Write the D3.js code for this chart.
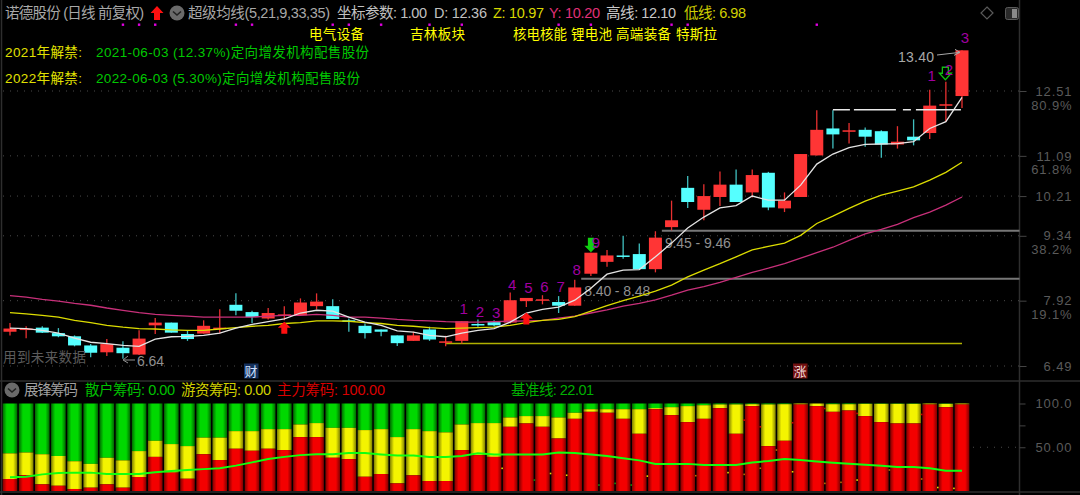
<!DOCTYPE html>
<html><head><meta charset="utf-8">
<script src="https://cdn.jsdelivr.net/npm/d3@7/dist/d3.min.js"></script>
<style>html,body{margin:0;background:#000;overflow:hidden}svg{display:block}text{font-family:"Liberation Sans","Noto Sans CJK SC",sans-serif}</style>
</head><body><svg id="c" width="1080" height="495"></svg>
<script>
// ---------- data ----------
const opens  =[7.24,7.30,7.33,7.21,7.14,6.94,6.79,6.89,6.74,7.38,7.44,7.19,7.20,7.32,7.83,7.67,7.53,7.61,7.60,7.80,7.80,7.49,7.37,7.29,7.16,7.04,7.29,7.02,7.04,7.41,7.45,7.44,7.91,7.94,7.89,7.81,8.51,8.77,8.91,8.94,8.61,9.53,10.39,9.91,10.19,10.46,10.29,10.72,9.94,10.19,11.10,11.69,11.64,11.66,11.63,11.34,11.51,11.59,12.21,12.40];
const closes =[7.31,7.31,7.22,7.14,6.94,6.78,6.97,6.77,7.09,7.44,7.22,7.08,7.37,7.33,7.70,7.56,7.65,7.62,7.88,7.90,7.52,7.48,7.21,7.24,6.99,7.16,7.07,7.03,7.47,7.39,7.38,7.93,7.98,7.95,7.81,8.21,8.97,8.91,8.89,8.61,9.30,9.68,10.08,10.21,10.46,10.08,10.67,9.96,10.11,11.13,11.66,11.56,11.65,11.51,11.34,11.40,11.43,12.19,12.22,13.40];
const highs  =[7.43,7.36,7.36,7.32,7.16,6.97,7.08,7.03,7.27,7.54,7.44,7.27,7.49,7.73,8.08,7.70,7.76,7.80,7.97,8.08,7.95,7.53,7.42,7.29,7.16,7.24,7.35,7.15,7.47,7.51,7.49,8.10,7.98,8.04,8.02,8.38,8.97,9.03,9.34,9.17,9.44,10.11,10.65,10.47,10.75,10.79,10.79,10.74,10.29,11.13,12.09,12.09,11.81,11.71,11.65,11.74,11.89,12.54,12.71,13.40];
const lows   =[7.16,7.10,7.21,7.12,6.92,6.68,6.71,6.65,6.73,7.19,7.22,7.04,7.20,7.20,7.60,7.43,7.51,7.49,7.60,7.73,7.52,7.24,7.09,7.14,6.93,7.04,7.04,6.92,6.98,7.35,7.36,7.42,7.78,7.84,7.65,7.81,8.46,8.66,8.84,8.61,8.54,9.46,9.95,9.68,9.99,10.08,10.18,9.90,9.86,10.19,11.10,11.25,11.36,11.29,11.05,11.25,11.32,11.46,11.83,12.14];
const maWhite =[7.32,7.31,7.27,7.21,7.10,7.01,6.98,6.94,6.92,7.08,7.13,7.14,7.16,7.21,7.32,7.40,7.46,7.52,7.65,7.71,7.69,7.56,7.45,7.38,7.26,7.23,7.16,7.13,7.21,7.27,7.31,7.45,7.65,7.73,7.78,7.93,8.19,8.50,8.59,8.60,8.88,9.18,9.51,9.75,9.95,10.00,10.21,10.12,10.12,10.45,10.91,11.13,11.27,11.34,11.35,11.36,11.40,11.69,11.84,12.37];
const maYellow=[7.66,7.63,7.60,7.56,7.49,7.44,7.38,7.34,7.31,7.30,7.28,7.27,7.27,7.30,7.33,7.36,7.38,7.42,7.44,7.48,7.48,7.47,7.44,7.42,7.38,7.36,7.33,7.31,7.32,7.33,7.34,7.38,7.44,7.49,7.51,7.57,7.69,7.81,7.92,8.02,8.13,8.26,8.44,8.59,8.73,8.88,9.03,9.11,9.18,9.35,9.61,9.77,9.94,10.10,10.23,10.32,10.41,10.56,10.73,10.95];
const maPink  =[8.03,8.00,7.95,7.91,7.86,7.82,7.76,7.71,7.66,7.62,7.60,7.58,7.56,7.56,7.56,7.56,7.58,7.60,7.60,7.62,7.60,7.56,7.56,7.54,7.51,7.49,7.48,7.46,7.45,7.45,7.46,7.47,7.48,7.49,7.54,7.58,7.65,7.72,7.80,7.86,7.94,8.04,8.15,8.23,8.32,8.43,8.54,8.63,8.73,8.85,8.97,9.09,9.24,9.38,9.48,9.59,9.74,9.86,10.01,10.19];
const chipRed   =[13.7,18,7.6,6,2.3,3.8,7.6,3.8,16,39,21,14,42,35.4,48.3,46,48.3,46.8,61.6,61.6,38,36.5,16.3,19.4,8.7,17.9,11.4,11.4,46.8,41,39,73.4,77.2,73.4,60,82.5,90.5,89.4,82.5,65.4,93.5,86.7,78.7,82.5,94.7,65.4,97,51.3,57.4,98.9,97,90.5,92,85.6,78.7,77.2,77.2,98.9,95.8,98.9];
const chipYellow=[43,44,42,40,34,31,38,35,45.6,57.4,53.6,51.3,61,61,68.4,68.4,70.7,70.7,76,77.6,72.2,72.2,69.6,70.7,61.6,70.7,68.4,67,76,77.6,77.6,84,85.6,85.6,84,89.4,93.5,93.5,93.5,93.5,94.7,95.8,97,98,98.9,98.9,99.2,98.9,99.2,100,100,99.2,99.2,99.6,99.6,99.6,99.6,100,99.6,100];
const baseLine  =[15.6,16.3,19,20.5,21,21,19.4,19.4,19.4,21.3,22.8,24,25,26,29,32.7,36.5,39,41,42,42,43.3,43.3,41.8,40.7,40.7,39,39,40,43,41.8,41.8,41.8,41.8,44,43.3,41.8,40,37.3,35,31,31,31,29.7,29.7,29.7,32.7,34.2,36.5,35.4,33.8,32.3,31.2,30,28.9,27.4,27.4,25.9,23.2,23.2];
const speckYellow=[[30.5,25.9],[33.5,20],[34.5,18],[39.5,17],[44.5,21],[48.5,22],[52.5,12.5],[57.5,4],[58.5,3]];
const speckGreen =[[32.5,12.5],[36.5,6.8],[37.5,8.7],[38.5,6.8]];
const speckOrange=[[42.5,17.5],[45.5,19],[46.5,26],[47.5,46.8],[50.5,8.7],[51.5,9.9],[54.5,24],[56.5,13.7]];
const speckRed   =[[45.5,81],[46.5,73.4],[48.5,78],[50.5,94.3],[52.5,88.6],[56.5,87.5]];
const priceTicks=[12.51,11.09,10.21,9.34,7.92,6.49];
const pctTicks=[80.9,61.8,38.2,19.1];
const chipTicks=[100,75,50];
const chipLabels=["100.0","","50.00"];
const dotBars=[7,8,9,14,15,20,21,23,26,28,34,36,41,42,50];
const highLine=12.10, lowLine=6.98;
const zones=[{p:9.45,from:40.4,label:"9.45 - 9.46"},{p:8.40,from:35.4,label:"8.40 - 8.48"}];
const counts=[{i:28,t:"1",p:7.63},{i:29,t:"2",p:7.56},{i:30,t:"3",p:7.54},{i:31,t:"4",p:8.16},{i:32,t:"5",p:8.08},{i:33,t:"6",p:8.12},{i:34,t:"7",p:8.12},{i:35,t:"8",p:8.48},{i:36,t:"9",p:9.08},{i:57,t:"1",p:12.72},{i:58,t:"2",p:12.86},{i:59,t:"3",p:13.57}];
const titleRow=[
 {t:"诺德股份 (日线 前复权)",x:5,w:139,c:"#a8a8a8"},
 {t:"超级均线(5,21,9,33,35)",x:188,w:142,c:"#a8a8a8"},
 {t:"坐标参数: 1.00",x:337,w:90,c:"#c0c0c0"},
 {t:"D: 12.36",x:434,w:53,c:"#c0c0c0"},
 {t:"Z: 10.97",x:493,w:51,c:"#d8d800"},
 {t:"Y: 10.20",x:549,w:51,c:"#e03078"},
 {t:"高线: 12.10",x:606,w:70,c:"#c8c8c8"},
 {t:"低线: 6.98",x:684,w:62,c:"#d0d000"}];
const conceptRow=[{t:"电气设备",x:309,w:55},{t:"吉林板块",x:410,w:55},{t:"核电核能",x:513,w:54},{t:"锂电池",x:571,w:41},{t:"高端装备",x:616,w:55},{t:"特斯拉",x:676,w:41}];
const unlockRows=[
 {h:"2021年解禁:",t:"2021-06-03 (12.37%)定向增发机构配售股份",w:273,y:52},
 {h:"2022年解禁:",t:"2022-06-03 (5.30%)定向增发机构配售股份",w:264,y:78}];
const chipRow=[
 {t:"展锋筹码",x:24,w:54,c:"#a0a0a0"},
 {t:"散户筹码: 0.00",x:85,w:90,c:"#00c000"},
 {t:"游资筹码: 0.00",x:181,w:90,c:"#d0d000"},
 {t:"主力筹码: 100.00",x:277,w:108,c:"#d80000"},
 {t:"基准线: 22.01",x:511,w:83,c:"#00b000"}];

// ---------- scales ----------
const svg=d3.select("#c");
svg.append("rect").attr("width",1080).attr("height",495).attr("fill","#000");
const N=opens.length, idx=d3.range(N);
const x=d3.scaleLinear().domain([0,N-1]).range([10,962]);
const y=d3.scaleLinear().domain([6.49,12.51]).range([366,91]);
const yPct=d3.scaleLinear().domain([19.1,80.9]).range([314,105]);
const yChip=d3.scaleLinear().domain([0,100]).range([491,403.5]);
const AX=1019.5;

// gradients
const defs=svg.append("defs");
[["gr","#800000","#f40000"],["gy","#808000","#f4f400"],["gg","#006800","#00d800"]].forEach(([id,e,m])=>{
 const g=defs.append("linearGradient").attr("id",id);
 g.append("stop").attr("offset","0").attr("stop-color",e);
 g.append("stop").attr("offset","0.28").attr("stop-color",m);
 g.append("stop").attr("offset","0.72").attr("stop-color",m);
 g.append("stop").attr("offset","1").attr("stop-color",e);
});

// frame
const frame=svg.append("g").attr("stroke","#2e2e2e").attr("stroke-width",1.5);
[[0,381,1080,381],[0,492,1080,492],[1.5,0,1.5,495],[AX,0,AX,495]].forEach(d=>frame.append("line").attr("x1",d[0]).attr("y1",d[1]).attr("x2",d[2]).attr("y2",d[3]));

// dotted grid
const grid=svg.append("g");
priceTicks.forEach(p=>grid.append("line").attr("x1",3).attr("x2",AX).attr("y1",y(p)).attr("y2",y(p)).attr("stroke","#4a4a4a").attr("stroke-dasharray","1 6"));

// axes
function styleAxis(g){g.select(".domain").remove();g.selectAll("line").attr("stroke","#444");
 g.selectAll("text").attr("text-anchor","end").attr("fill","#5a5a5a").attr("font-size",13).attr("letter-spacing",0.9);}
svg.append("g").attr("transform",`translate(${AX},0)`)
 .call(d3.axisRight(y).tickValues(priceTicks).tickSize(7).tickPadding(46).tickFormat(d3.format(".2f"))).call(styleAxis);
svg.append("g").attr("transform",`translate(${AX},0)`)
 .call(d3.axisRight(yPct).tickValues(pctTicks).tickSize(0).tickPadding(53).tickFormat(d=>d.toFixed(1)+"%")).call(styleAxis);
svg.append("g").attr("transform",`translate(${AX},0)`)
 .call(d3.axisRight(yChip).tickValues(chipTicks).tickSize(6).tickPadding(47).tickFormat((d,i)=>chipLabels[i])).call(styleAxis);

// zones + range labels
const fine=svg.append("g");
zones.forEach(z=>{
 fine.append("line").attr("x1",x(z.from)).attr("x2",AX).attr("y1",y(z.p)).attr("y2",y(z.p)).attr("stroke","#777").attr("stroke-width",2);
 fine.append("text").attr("x",x(z.from)+3).attr("y",y(z.p)+17).attr("fill","#909090").attr("font-size",14).attr("textLength",66).text(z.label);
});
svg.append("line").attr("x1",x(27)).attr("x2",x(59)).attr("y1",y(lowLine)).attr("y2",y(lowLine)).attr("stroke","#b0b000").attr("stroke-width",1.5);

// candles
const isUp=i=>closes[i]>=opens[i];
const colUp="#ff3535", colDn="#55ffff";
svg.append("g").selectAll("line").data(idx).join("line")
 .attr("x1",x).attr("x2",x).attr("y1",i=>y(highs[i])).attr("y2",i=>y(lows[i]))
 .attr("stroke",i=>isUp(i)?"#e83030":"#40c0c0").attr("stroke-width",1.3);
svg.append("g").selectAll("rect").data(idx).join("rect")
 .attr("x",i=>x(i)-6.5).attr("width",13)
 .attr("y",i=>y(Math.max(opens[i],closes[i])))
 .attr("height",i=>Math.max(1.5,Math.abs(y(opens[i])-y(closes[i]))))
 .attr("fill",i=>isUp(i)?colUp:colDn);

// MAs
const lineGen=a=>d3.line().x((d,i)=>x(i)).y(d=>y(d))(a);
[[maPink,"#c8307a"],[maYellow,"#dcdc00"],[maWhite,"#e4e4e4"]].forEach(([a,c])=>{
 svg.append("path").attr("d",lineGen(a)).attr("fill","none").attr("stroke",c).attr("stroke-width",1.3);
});
svg.append("line").attr("x1",x(51)).attr("x2",x(59)).attr("y1",y(highLine)).attr("y2",y(highLine)).attr("stroke","#e8e8e8").attr("stroke-width",1.5).attr("stroke-dasharray","17 4 42 7 8 5 45");

// arrows: solid up, solid down, outlined down
const arrowUp=(cx,ty,c)=>svg.append("path").attr("d",`M${cx} ${ty}l6.5 6h-3.5v6h-6v-6h-3.5z`).attr("fill",c);
arrowUp(x(17),y(7.46),"#ff1010");
arrowUp(x(32),y(7.66),"#ff1010");
svg.append("path").attr("d",`M${x(36)-3} ${y(9.30)}h6v8h3.5l-6.5 6.5l-6.5-6.5h3.5z`).attr("fill","#10d010");
svg.append("path").attr("d",`M${x(58)-3.5} ${y(13.03)}h6v6h3l-6 6.5l-6-6.5h3z`).attr("fill","none").attr("stroke","#10c010").attr("stroke-width",1.3);

// count numbers
svg.append("g").selectAll("text").data(counts).join("text")
 .attr("x",d=>x(d.i)+(d.i===36?5:d.i===58?3:d.i===59?3:2)).attr("y",d=>y(d.p)).attr("text-anchor","middle")
 .attr("fill","#a000a0").attr("font-size",15).text(d=>d.t);

// magenta marker dots
svg.append("g").selectAll("rect").data(dotBars).join("rect")
 .attr("x",i=>x(i)-1.2).attr("y",23.5).attr("width",2.4).attr("height",2.4).attr("fill","#e000e0");

// header text
const T=(t,xp,yp,c,w,fs=14.5)=>svg.append("text").attr("x",xp).attr("y",yp).attr("fill",c).attr("font-size",fs).attr("textLength",w).attr("lengthAdjust","spacing").text(t);
titleRow.forEach(d=>T(d.t,d.x,18,d.c,d.w));
conceptRow.forEach(d=>T(d.t,d.x,39,"#ffff00",d.w,13.5));
unlockRows.forEach(d=>{T(d.h,5,d.y+5,"#e0e000",77,13.5);T(d.t,96,d.y+5,"#00c800",d.w,13.5);});
svg.append("path").attr("d","M157 6l6.5 7h-3.5v7h-6v-7h-3.5z").attr("fill","#ff1010");

const chevron=(cx,cy)=>{svg.append("circle").attr("cx",cx).attr("cy",cy).attr("r",7.5).attr("fill","#6a6a6a");
 svg.append("path").attr("d",`M${cx-4} ${cy-1.5}l4 3.5l4-3.5`).attr("fill","none").attr("stroke","#222").attr("stroke-width",1.6);};
chevron(177,13); chevron(12,390);
svg.append("path").attr("d","M987 7l6 6l-6 6l-6-6z").attr("fill","none").attr("stroke","#5a5a5a").attr("stroke-width",1.2);
svg.append("rect").attr("x",1005.5).attr("y",7.5).attr("width",13).attr("height",12).attr("rx",2).attr("fill","#2a2a2a").attr("stroke","#5a5a5a");
svg.append("rect").attr("x",1012).attr("y",9).attr("width",5).attr("height",9).attr("fill","#8a8a8a");

// price callouts
const callout=svg.append("g");
callout.append("text").attr("x",898).attr("y",62).attr("fill","#a8a8a8").attr("font-size",14).attr("textLength",36).text("13.40");
callout.append("path").attr("d",`M937 55L${x(59)-2} ${y(13.40)+2}M${x(59)-7} ${y(13.40)-1}L${x(59)-2} ${y(13.40)+2}L${x(59)-8} ${y(13.40)+5}`).attr("fill","none").attr("stroke","#a8a8a8");
callout.append("text").attr("x",137).attr("y",366).attr("fill","#909090").attr("font-size",14).attr("textLength",27).text("6.64");
callout.append("path").attr("d",`M135 360H124M128 356L123 360L128 363`).attr("fill","none").attr("stroke","#909090");
T("用到未来数据",3,362,"#5c5c5c",83,13.5);

// event boxes
[[251,"财","#14305c","#cfe0ff"],[800,"涨","#701010","#f0d8d8"]].forEach(([cx,t,bg,fg])=>{
 svg.append("rect").attr("x",cx-7).attr("y",363.5).attr("width",14.5).attr("height",15).attr("fill",bg);
 svg.append("text").attr("x",cx).attr("y",376).attr("text-anchor","middle").attr("fill",fg).attr("font-size",13).text(t);
});

// chip panel
chipRow.forEach(d=>T(d.t,d.x,395,d.c,d.w));
const bw=14.6;
const bars=svg.append("g");
bars.selectAll("rect.g").data(idx).join("rect").attr("class","g").attr("x",i=>x(i)-bw/2).attr("width",bw)
 .attr("y",yChip(100)).attr("height",i=>yChip(chipYellow[i])-yChip(100)).attr("fill","url(#gg)");
bars.selectAll("rect.y").data(idx).join("rect").attr("class","y").attr("x",i=>x(i)-bw/2).attr("width",bw)
 .attr("y",i=>yChip(chipYellow[i])).attr("height",i=>yChip(chipRed[i])-yChip(chipYellow[i])).attr("fill","url(#gy)");
bars.selectAll("rect.r").data(idx).join("rect").attr("class","r").attr("x",i=>x(i)-bw/2).attr("width",bw)
 .attr("y",i=>yChip(chipRed[i])).attr("height",i=>yChip(0)-yChip(chipRed[i])).attr("fill","url(#gr)");
[[speckYellow,"#e8d800"],[speckGreen,"#109010"],[speckOrange,"#b87000"],[speckRed,"#d00000"]].forEach(([a,c])=>{
 svg.append("g").selectAll("rect").data(a).join("rect").attr("x",d=>x(d[0])-0.8).attr("y",d=>yChip(d[1])-0.8).attr("width",1.6).attr("height",1.6).attr("fill",c);
});
svg.append("path").attr("d",d3.line().x((d,i)=>x(i)).y(d=>yChip(d))(baseLine)).attr("fill","none").attr("stroke","#10ff10").attr("stroke-width",2);
svg.append("line").attr("x1",973).attr("x2",1017).attr("y1",yChip(50)).attr("y2",yChip(50)).attr("stroke","#4a4a4a").attr("stroke-dasharray","1 6");
</script></body></html>
